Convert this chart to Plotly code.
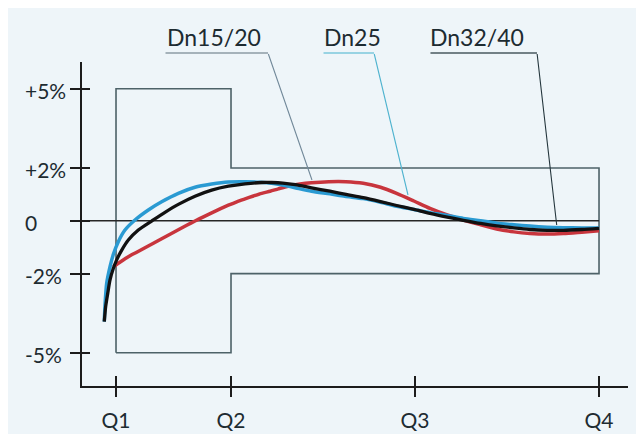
import plotly.graph_objects as go

# ---------------- data ----------------
q_labels = ["Q1", "Q2", "Q3", "Q4"]
q_ticks = [1.0, 2.0, 3.6, 5.2]
y_ticks = [-5, -2, 0, 2, 5]
y_tick_labels = ["-5%", "-2%", "0", "+2%", "+5%"]

# tolerance envelope (+-5% between Q1 and Q2, +-2% between Q2 and Q4)
limit_x = [1.0, 1.0, 2.0, 2.0, 5.2, 5.2, 2.0, 2.0, 1.0]
limit_y = [-5, 5, 5, 2, 2, -2, -2, -5, -5]

zero_x = [0.7043, 5.2]
zero_y = [0, 0]

dn1520_x = [0.977, 1.04, 1.107, 1.18, 1.252, 1.325, 1.397, 1.47, 1.542, 1.615, 1.687, 1.76, 1.832,
            1.905, 1.977, 2.05, 2.122, 2.195, 2.267, 2.34, 2.412, 2.498, 2.60, 2.70, 2.85, 3.00,
            3.15, 3.30, 3.44, 3.59, 3.73, 3.88, 4.02, 4.17, 4.31, 4.46, 4.60, 4.75, 4.89, 5.05,
            5.20]
dn1520_y = [-1.74, -1.55, -1.36, -1.19, -1.02, -0.85, -0.68, -0.51, -0.34, -0.17, -0.01, 0.15, 0.30,
            0.45, 0.59, 0.72, 0.83, 0.94, 1.04, 1.12, 1.21, 1.31, 1.39, 1.44, 1.48, 1.48,
            1.42, 1.27, 1.04, 0.75, 0.47, 0.22, 0.03, -0.15, -0.31, -0.42, -0.48, -0.50, -0.48, -0.43,
            -0.38]

dn25_x = [0.898, 0.906, 0.919, 0.948, 0.977, 1.020, 1.078, 1.165, 1.281, 1.397, 1.542, 1.687,
          1.832, 1.977, 2.122, 2.25, 2.37, 2.48, 2.59, 2.70, 2.86, 2.99, 3.15, 3.30, 3.44, 3.59,
          3.73, 3.88, 4.02, 4.17, 4.31, 4.46, 4.60, 4.75, 4.89, 5.05, 5.20]
dn25_y = [-3.82, -3.08, -2.37, -1.74, -1.27, -0.79, -0.35, 0.03, 0.41, 0.72, 1.04, 1.27,
          1.39, 1.47, 1.48, 1.46, 1.41, 1.33, 1.22, 1.12, 1.02, 0.93, 0.84, 0.70, 0.55, 0.43,
          0.31, 0.20, 0.09, 0.00, -0.09, -0.15, -0.20, -0.24, -0.26, -0.27, -0.27]

dn3240_x = [0.898, 0.910, 0.928, 0.948, 0.977, 1.006, 1.050, 1.107, 1.194, 1.310, 1.426, 1.542,
            1.687, 1.832, 1.977, 2.122, 2.267, 2.354, 2.45, 2.56, 2.70, 2.86, 3.00, 3.15, 3.30,
            3.44, 3.59, 3.73, 3.88, 4.02, 4.17, 4.31, 4.46, 4.60, 4.75, 4.89, 5.05, 5.20]
dn3240_y = [-3.82, -3.25, -2.75, -2.24, -1.80, -1.48, -1.11, -0.73, -0.35, -0.01, 0.32, 0.62,
            0.93, 1.16, 1.31, 1.40, 1.45, 1.45, 1.43, 1.37, 1.25, 1.12, 1.00, 0.88, 0.73,
            0.58, 0.43, 0.28, 0.14, 0.02, -0.10, -0.19, -0.27, -0.33, -0.36, -0.36, -0.33, -0.29]

series_names = ["Dn15/20", "Dn25", "Dn32/40"]

# ---------------- style ----------------
FONT = "Lato, 'Open Sans', sans-serif"
TXT = "#1d2b31"
AX = "#1c1c1c"
BG = "#eef5f9"

fig = go.Figure()

fig.add_trace(go.Scatter(x=limit_x, y=limit_y, mode="lines",
                         line=dict(color="#4d6268", width=1.6),
                         hoverinfo="skip", showlegend=False))
fig.add_trace(go.Scatter(x=zero_x, y=zero_y, mode="lines",
                         line=dict(color="#262626", width=1.6),
                         hoverinfo="skip", showlegend=False))

fig.add_trace(go.Scatter(x=dn1520_x, y=dn1520_y, mode="lines", name=series_names[0],
                         line=dict(color="#c8353d", width=3.5, shape="spline", smoothing=0.7),
                         showlegend=False))
fig.add_trace(go.Scatter(x=dn25_x, y=dn25_y, mode="lines", name=series_names[1],
                         line=dict(color="#2a9ad2", width=3.5, shape="spline", smoothing=0.7),
                         showlegend=False))
fig.add_trace(go.Scatter(x=dn3240_x, y=dn3240_y, mode="lines", name=series_names[2],
                         line=dict(color="#111111", width=3.3, shape="spline", smoothing=0.7),
                         showlegend=False))

# dummy trace for the overlay axes (inner halves of the crossing ticks)
fig.add_trace(go.Scatter(x=[None], y=[None], xaxis="x2", yaxis="y2",
                         showlegend=False, hoverinfo="skip"))

annotations = []
# y tick labels (left aligned, as in the reference)
for v, t in zip(y_ticks, y_tick_labels):
    annotations.append(dict(x=-0.108, xref="paper", y=v, yref="y", text=t,
                            xanchor="left", yanchor="middle", showarrow=False, yshift=-2,
                            font=dict(family=FONT, size=21, color=TXT)))

# series labels with underline and leader line
label_left = [0.152, 0.4396, 0.6337]        # paper x of the label text
under_start = [1.426, 2.80, 3.73]           # x (data) where underline starts
elbow_x = [2.3217, 3.2435, 4.661]           # x (data) of underline end / leader start
target_x = [2.704, 3.539, 4.832]            # leader end on the curves
target_y = [1.545, 0.977, -0.159]
lead_col = ["#72899a", "#4fb3cf", "#24363d"]
under_col = ["#8d9ca5", "#7cc7dc", "#4a5a60"]
for i, name in enumerate(series_names):
    annotations.append(dict(x=label_left[i], xref="paper", y=1.0772, yref="paper", text=name,
                            xanchor="left", yanchor="middle", showarrow=False,
                            font=dict(family=FONT, size=23, color=TXT)))
    annotations.append(dict(x=elbow_x[i], xref="x", y=1.0278, yref="paper",
                            ax=under_start[i], axref="x", ay=0, ayref="pixel",
                            text=" ", font=dict(size=1), borderpad=0,
                            showarrow=True, arrowhead=0, arrowwidth=1.3, arrowcolor=under_col[i]))
    annotations.append(dict(x=target_x[i], xref="x", y=target_y[i], yref="y",
                            ax=elbow_x[i], axref="x", ay=6.356, ayref="y",
                            text=" ", font=dict(size=1), borderpad=0,
                            showarrow=True, arrowhead=0, arrowwidth=1.1, arrowcolor=lead_col[i]))

# page body has an 8px margin: figure is sized to fit the remaining window
fig.update_layout(
    width=636, height=426, autosize=False,
    margin=dict(l=74, r=16, t=54, b=48, pad=0, autoexpand=False),
    paper_bgcolor=BG, plot_bgcolor=BG,
    font=dict(family=FONT, color=TXT),
    showlegend=False,
    annotations=annotations,
    xaxis=dict(range=[0.7043, 5.452], showline=True, linecolor=AX, linewidth=2,
               tickvals=q_ticks, ticktext=q_labels, ticks="outside", ticklen=9, tickwidth=2,
               tickcolor=AX, showgrid=False, zeroline=False, automargin=False,
               tickfont=dict(family=FONT, size=21, color=TXT), ticklabelstandoff=6),
    yaxis=dict(range=[-6.258, 6.015], showline=True, linecolor=AX, linewidth=2,
               tickvals=y_ticks, ticks="outside", ticklen=10, tickwidth=1.6, tickcolor=AX,
               showticklabels=False, showgrid=False, zeroline=False, automargin=False),
    xaxis2=dict(overlaying="x", matches="x", anchor="y2", side="bottom",
                tickvals=q_ticks, ticks="inside", ticklen=10, tickwidth=2, tickcolor=AX,
                showticklabels=False, showline=False, showgrid=False, zeroline=False,
                automargin=False),
    yaxis2=dict(overlaying="y", matches="y", anchor="x2", side="left",
                tickvals=y_ticks, ticks="inside", ticklen=8, tickwidth=1.6, tickcolor=AX,
                showticklabels=False, showline=False, showgrid=False, zeroline=False,
                automargin=False),
)

fig.write_html("out.html")
